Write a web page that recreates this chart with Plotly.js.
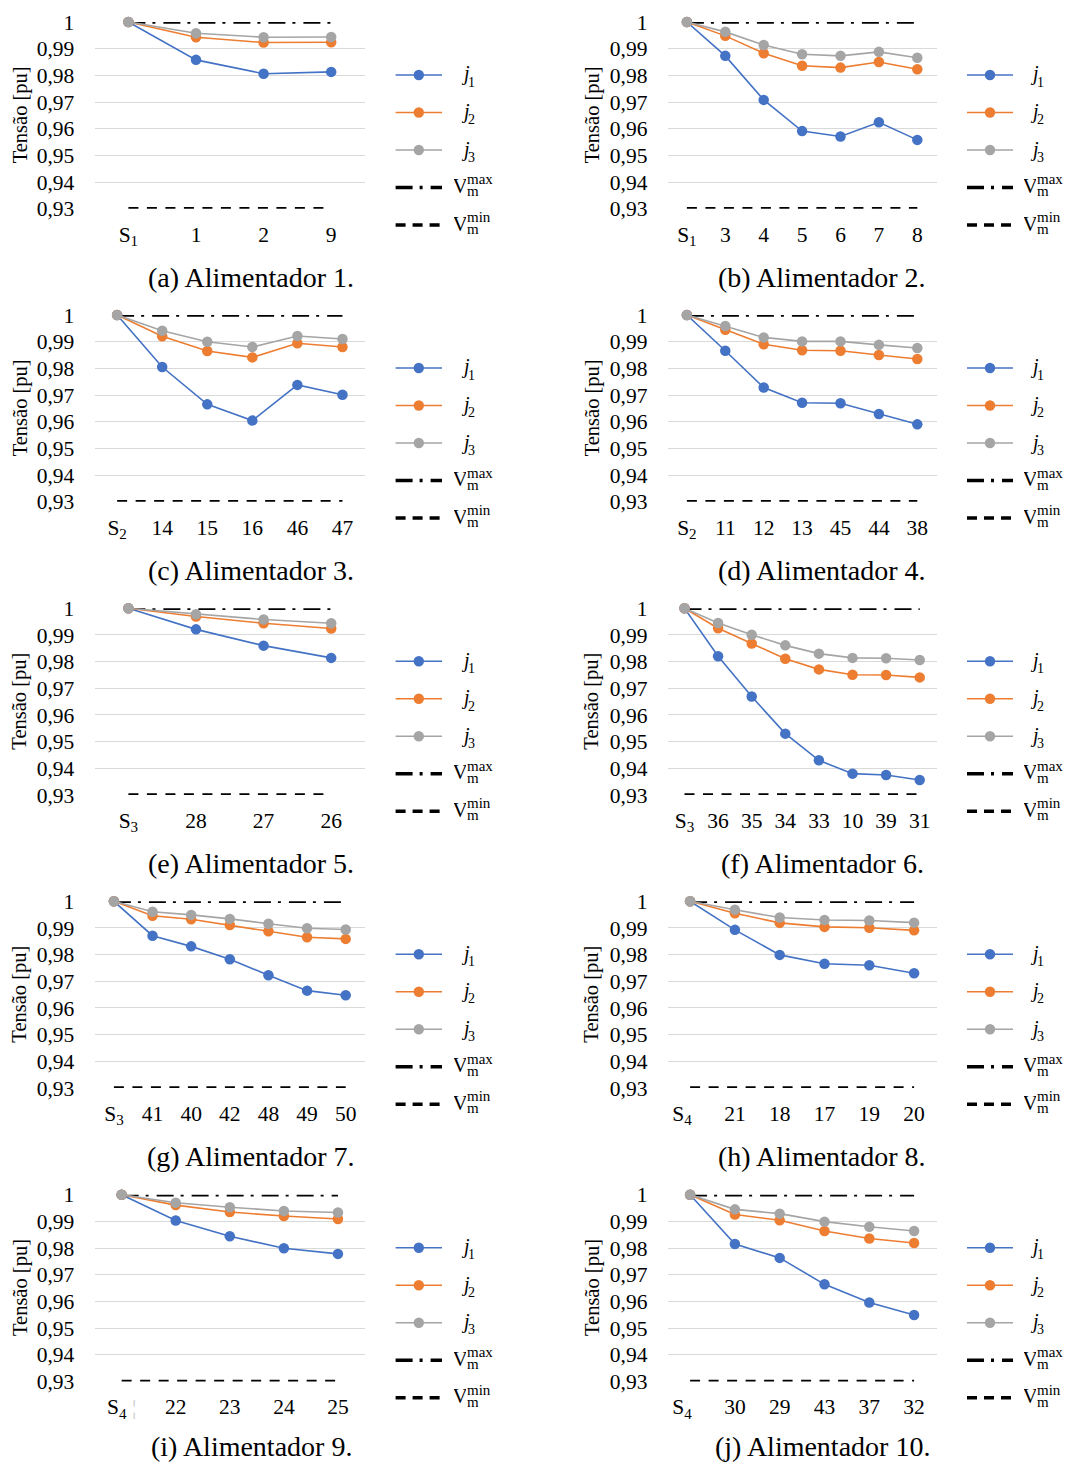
<!DOCTYPE html>
<html><head><meta charset="utf-8">
<script src="https://cdn.plot.ly/plotly-3.0.1.min.js"></script>
<style>body{margin:0;background:#fff}#chart{width:1066px;height:1463px}</style>
</head><body><div id="chart"></div>
<script>
// ---- data ----
const catsA = ['S<sub>1</sub>','1','2','9'];
const j1A = [1, 0.9858, 0.9806, 0.9813];
const j2A = [1, 0.9943, 0.9923, 0.9924];
const j3A = [1, 0.9958, 0.9943, 0.9944];

const catsB = ['S<sub>1</sub>','3','4','5','6','7','8'];
const j1B = [1, 0.9873, 0.9708, 0.9591, 0.9571, 0.9624, 0.9558];
const j2B = [1, 0.9948, 0.9883, 0.9836, 0.9829, 0.9850, 0.9823];
const j3B = [1, 0.9963, 0.9914, 0.9879, 0.9873, 0.9888, 0.9866];

const catsC = ['S<sub>2</sub>','14','15','16','46','47'];
const j1C = [1, 0.9805, 0.9665, 0.9604, 0.9738, 0.9701];
const j2C = [1, 0.9920, 0.9865, 0.9841, 0.9894, 0.9880];
const j3C = [1, 0.9941, 0.9900, 0.9880, 0.9921, 0.9910];

const catsD = ['S<sub>2</sub>','11','12','13','45','44','38'];
const j1D = [1, 0.9866, 0.9728, 0.9671, 0.9669, 0.9629, 0.9590];
const j2D = [1, 0.9945, 0.9890, 0.9868, 0.9866, 0.9850, 0.9835];
const j3D = [1, 0.9959, 0.9916, 0.9901, 0.9901, 0.9888, 0.9876];

const catsE = ['S<sub>3</sub>','28','27','26'];
const j1E = [1, 0.9921, 0.9860, 0.9814];
const j2E = [1, 0.9969, 0.9944, 0.9924];
const j3E = [1, 0.9978, 0.9958, 0.9944];

const catsF = ['S<sub>3</sub>','36','35','34','33','10','39','31'];
const j1F = [1, 0.9820, 0.9669, 0.9530, 0.9430, 0.9380, 0.9375, 0.9356];
const j2F = [1, 0.9925, 0.9868, 0.9811, 0.9771, 0.9751, 0.9750, 0.9741];
const j3F = [1, 0.9945, 0.9901, 0.9861, 0.9830, 0.9814, 0.9813, 0.9806];

const catsG = ['S<sub>3</sub>','41','40','42','48','49','50'];
const j1G = [1, 0.9871, 0.9831, 0.9783, 0.9723, 0.9665, 0.9648];
const j2G = [1, 0.9946, 0.9933, 0.9911, 0.9888, 0.9865, 0.9859];
const j3G = [1, 0.9961, 0.9949, 0.9934, 0.9916, 0.9899, 0.9894];

const catsH = ['S<sub>4</sub>\u00a0\u00a0\u00a0','21','18','17','19','20'];
const j1H = [1, 0.9893, 0.9799, 0.9766, 0.9760, 0.9730];
const j2H = [1, 0.9955, 0.9919, 0.9904, 0.9901, 0.9891];
const j3H = [1, 0.9968, 0.9939, 0.9930, 0.9928, 0.9920];

const catsI = ['S<sub>4</sub> <span style="color:#c8c8c8">¦</span>','22','23','24','25'];
const j1I = [1, 0.9903, 0.9844, 0.9799, 0.9778];
const j2I = [1, 0.9961, 0.9935, 0.9920, 0.9909];
const j3I = [1, 0.9970, 0.9953, 0.9939, 0.9933];

const catsJ = ['S<sub>4</sub>\u00a0\u00a0\u00a0','30','29','43','37','32'];
const j1J = [1, 0.9815, 0.9763, 0.9664, 0.9596, 0.9549];
const j2J = [1, 0.9926, 0.9904, 0.9864, 0.9836, 0.9819];
const j3J = [1, 0.9945, 0.9929, 0.9899, 0.9880, 0.9864];

const captions = ['(a) Alimentador 1.','(b) Alimentador 2.','(c) Alimentador 3.','(d) Alimentador 4.',
  '(e) Alimentador 5.','(f) Alimentador 6.','(g) Alimentador 7.','(h) Alimentador 8.',
  '(i) Alimentador 9.','(j) Alimentador 10.'];
const vMax = 1.00;
const vMin = 0.93;
const yTickVals = [0.93, 0.94, 0.95, 0.96, 0.97, 0.98, 0.99, 1.00];
const yTickText = ['0,93','0,94','0,95','0,96','0,97','0,98','0,99','1'];
const seriesNames = ['j1','j2','j3'];
const yTitle = 'Tensão [pu]';

// ---- layout / style ----
const W = 1066, H = 1463;
const FONT = 'Liberation Serif, "Times New Roman", serif';
const COLORS = ['#4472C4', '#ED7D31', '#A5A5A5'];
const DASHDOT = '17px,7px,3px,8px';
const DASH = '10px,8.5px';
const colX = [[94.6, 365], [667.7, 936.5]];
const rowTop = [22, 315, 608.3, 901.3, 1194.7];
const plotH = 186.7;
const legX = [{l0: 395.6, l1: 442, j: 459, s: 466, V: 452, sup: 465},
              {l0: 967, l1: 1013, j: 1028, s: 1035, V: 1022, sup: 1035}];
const capX = [251, 822];
const capDy = [255, 255, 255, 255, 252];
const ytX = [20, 592];

const panels = [
  [catsA, j1A, j2A, j3A], [catsB, j1B, j2B, j3B],
  [catsC, j1C, j2C, j3C], [catsD, j1D, j2D, j3D],
  [catsE, j1E, j2E, j3E], [catsF, j1F, j2F, j3F],
  [catsG, j1G, j2G, j3G], [catsH, j1H, j2H, j3H],
  [catsI, j1I, j2I, j3I], [catsJ, j1J, j2J, j3J]
];

const px = v => v / W;
const py = v => 1 - v / H;

const traces = [];
const layout = {
  width: W, height: H,
  margin: {l: 0, r: 0, t: 0, b: 0},
  paper_bgcolor: '#fff', plot_bgcolor: '#fff',
  showlegend: false,
  font: {family: FONT, size: 21, color: '#000'},
  shapes: [], annotations: []
};

function ann(x, y, text, size, opts) {
  return Object.assign({xref: 'paper', yref: 'paper', x: px(x), y: py(y), xanchor: 'left', yanchor: 'middle',
    text: text, showarrow: false, font: {family: FONT, size: size, color: '#000'}}, opts || {});
}

panels.forEach((p, i) => {
  const [cats, a1, a2, a3] = p;
  const r = Math.floor(i / 2), c = i % 2;
  const n = i + 1;
  const xa = 'x' + (n > 1 ? n : ''), ya = 'y' + (n > 1 ? n : '');
  const top = rowTop[r], bot = top + plotH;
  layout['xaxis' + (n > 1 ? n : '')] = {
    domain: [px(colX[c][0]), px(colX[c][1])],
    anchor: ya, type: 'category', range: [-0.5, cats.length - 0.5],
    showgrid: false, zeroline: false, showline: false,
    ticks: 'outside', ticklen: 6, tickcolor: 'rgba(0,0,0,0)',
    tickfont: {family: FONT, size: 21.5, color: '#000'}, fixedrange: true
  };
  layout['yaxis' + (n > 1 ? n : '')] = {
    domain: [py(bot), py(top)], anchor: xa,
    range: [vMin, vMax],
    tickvals: yTickVals, ticktext: yTickText,
    showgrid: true, gridcolor: '#D9D9D9', gridwidth: 1,
    zeroline: false, showline: false,
    ticks: 'outside', ticklen: 15, tickcolor: 'rgba(0,0,0,0)',
    tickfont: {family: FONT, size: 21.5, color: '#000'}, fixedrange: true
  };
  traces.push({x: cats, y: cats.map(() => vMax), xaxis: xa, yaxis: ya, mode: 'lines',
    line: {color: '#000', width: 3.4, dash: DASHDOT}, cliponaxis: false, hoverinfo: 'skip', name: 'Vmax'});
  traces.push({x: cats, y: cats.map(() => vMin), xaxis: xa, yaxis: ya, mode: 'lines',
    line: {color: '#000', width: 3.4, dash: DASH}, cliponaxis: false, hoverinfo: 'skip', name: 'Vmin'});
  [a1, a2, a3].forEach((vals, k) => {
    traces.push({x: cats, y: vals, xaxis: xa, yaxis: ya, mode: 'lines+markers', name: seriesNames[k],
      line: {color: COLORS[k], width: 1.6}, marker: {color: COLORS[k], size: 10.5},
      cliponaxis: false});
  });

  // legend (drawn per panel, as in the reference)
  const L = legX[c];
  const ly = k => top + 53 + 37.5 * k;
  for (let k = 0; k < 3; k++) {
    const y = ly(k);
    layout.shapes.push({type: 'line', xref: 'paper', yref: 'paper', x0: px(L.l0), x1: px(L.l1), y0: py(y), y1: py(y),
      line: {color: COLORS[k], width: 1.6}});
    const cx = (L.l0 + L.l1) / 2;
    layout.shapes.push({type: 'circle', xref: 'paper', yref: 'paper', x0: px(cx - 5.2), x1: px(cx + 5.2), y0: py(y + 5.2), y1: py(y - 5.2),
      fillcolor: COLORS[k], line: {color: COLORS[k], width: 0}});
    layout.annotations.push(ann(L.j, y - 1, '<i>j</i>', 20));
    layout.annotations.push(ann(L.s, y + 7.2, String(k + 1), 14));
  }
  const vm = [['max', DASHDOT], ['min', '10px,7px']];
  vm.forEach((v, q) => {
    const y = ly(3 + q);
    layout.shapes.push({type: 'line', xref: 'paper', yref: 'paper', x0: px(L.l0), x1: px(L.l1), y0: py(y), y1: py(y),
      line: {color: '#000', width: 3.4, dash: v[1]}});
    layout.annotations.push(ann(L.V, y - 1.5, 'V', 21, {width: 12}));
    layout.annotations.push(ann(L.sup, y - 8.5, v[0], 15, {height: 11}));
    layout.annotations.push(ann(L.sup, y + 3.5, 'm', 15, {height: 11}));
  });

  // y title
  layout.annotations.push(ann(ytX[c], top + plotH / 2, yTitle, 20.5, {xanchor: 'center', textangle: -90}));
  // caption
  layout.annotations.push(ann(capX[c], top + capDy[r], captions[i], 28, {xanchor: 'center'}));
});

Plotly.newPlot('chart', traces, layout, {staticPlot: true, displayModeBar: false});
</script>
</body></html>
